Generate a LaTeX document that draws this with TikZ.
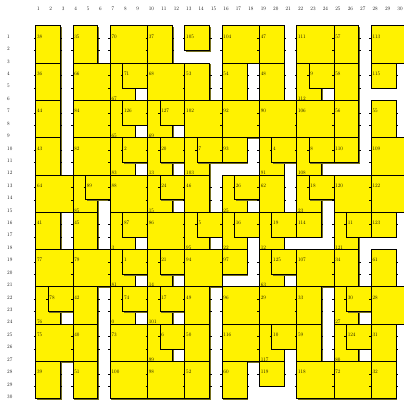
\documentclass[tikz,border=0pt]{standalone}
\usepackage{tikz}

\definecolor{shadowolive}{RGB}{118,112,32}

\tikzset{
  blk/.style={fill=yellow, draw=black, line width=1.5pt},
  blkshadow/.style={fill=shadowolive},
  edgetick/.style={draw=black, line width=0.8pt},
  num/.style={anchor=base west, inner sep=0pt, inner xsep=3pt, font=\large}
}

\newcommand{\drawblk}[6]{%
  \fill[blkshadow] (#1+0.1,#2+0.1) rectangle (#3+0.1,#4+0.1);
  \pgfmathtruncatemacro{\rowa}{#2+1}%
  \pgfmathtruncatemacro{\rowb}{#4-1}%
  \foreach \k in {\rowa,...,\rowb} {
    \draw[edgetick] (#1-0.15,\k) -- (#1+0.15,\k);
    \draw[edgetick] (#3-0.15,\k) -- (#3+0.15,\k);
  }
  \filldraw[blk] (#1,#2) rectangle (#3,#4);
  \node[num] at (#1,#6) {#5};
}
\newcommand{\blk}[5]{\drawblk{#1}{#2}{#3}{#4}{#5}{#2+1}}
\newcommand{\lblk}[5]{\drawblk{#1}{#2}{#3}{#4}{#5}{#4}}

\begin{document}
\begin{tikzpicture}[x=1cm,y=-1cm]
\useasboundingbox (-1.87,-2.07) rectangle (30.63,30.68);
\clip (-1.87,-2.07) rectangle (30.63,30.68);

\foreach \c in {1,...,30} \node[num] at (\c,-1.26) {\c};
\foreach \r in {1,...,30} \node[num] at (-1.4,\r) {\r};

\blk{1}{0}{3}{3}{38}
\blk{4}{0}{6}{3}{35}
\blk{7}{0}{10}{3}{70}
\blk{10}{0}{12}{3}{37}
\blk{13}{0}{15}{2}{105}
\blk{16}{0}{19}{3}{104}
\blk{19}{0}{21}{3}{47}
\blk{22}{0}{25}{3}{111}
\blk{25}{0}{27}{3}{57}
\blk{28}{0}{31}{3}{113}

\blk{1}{3}{3}{6}{36}
\blk{4}{3}{7}{6}{66}
\lblk{7}{3}{9}{6}{67}
\blk{8}{3}{10}{5}{71}
\blk{10}{3}{13}{6}{68}
\blk{13}{3}{15}{6}{53}
\blk{16}{3}{18}{6}{54}
\blk{19}{3}{21}{6}{48}
\lblk{22}{3}{24}{6}{112}
\blk{23}{3}{25}{5}{9}
\blk{25}{3}{27}{6}{58}
\blk{28}{3}{30}{5}{115}

\blk{1}{6}{3}{9}{44}
\blk{4}{6}{7}{9}{84}
\lblk{7}{6}{9}{9}{65}
\blk{8}{6}{10}{8}{126}
\lblk{10}{6}{12}{9}{69}
\blk{11}{6}{13}{8}{127}
\blk{13}{6}{16}{9}{102}
\blk{16}{6}{19}{9}{92}
\blk{19}{6}{22}{9}{90}
\blk{22}{6}{25}{9}{106}
\blk{25}{6}{27}{9}{56}
\blk{28}{6}{30}{9}{55}

\blk{1}{9}{3}{12}{43}
\blk{4}{9}{7}{12}{82}
\lblk{7}{9}{9}{12}{83}
\blk{8}{9}{10}{11}{2}
\lblk{10}{9}{12}{12}{13}
\blk{11}{9}{13}{11}{20}
\lblk{13}{9}{15}{12}{103}
\blk{14}{9}{16}{11}{7}
\blk{16}{9}{18}{11}{93}
\lblk{19}{9}{21}{12}{91}
\blk{20}{9}{22}{11}{4}
\lblk{22}{9}{24}{12}{108}
\blk{23}{9}{25}{11}{8}
\blk{25}{9}{27}{11}{110}
\blk{28}{9}{31}{12}{109}

\blk{1}{12}{4}{15}{64}
\lblk{4}{12}{6}{15}{85}
\blk{5}{12}{7}{14}{89}
\blk{7}{12}{10}{15}{88}
\lblk{10}{12}{12}{15}{15}
\blk{11}{12}{13}{14}{24}
\blk{13}{12}{15}{15}{46}
\lblk{16}{12}{18}{15}{25}
\blk{17}{12}{19}{14}{26}
\blk{19}{12}{21}{15}{62}
\lblk{22}{12}{24}{15}{23}
\blk{23}{12}{25}{14}{18}
\blk{25}{12}{28}{15}{120}
\blk{28}{12}{31}{15}{122}

\blk{1}{15}{3}{18}{41}
\blk{4}{15}{6}{18}{45}
\lblk{7}{15}{9}{18}{3}
\blk{8}{15}{10}{17}{87}
\blk{10}{15}{13}{18}{86}
\lblk{13}{15}{15}{18}{95}
\blk{14}{15}{16}{17}{5}
\lblk{16}{15}{18}{18}{22}
\blk{17}{15}{19}{17}{16}
\lblk{19}{15}{21}{18}{12}
\blk{20}{15}{22}{17}{19}
\blk{22}{15}{24}{17}{114}
\lblk{25}{15}{27}{18}{121}
\blk{26}{15}{28}{17}{11}
\blk{28}{15}{30}{17}{123}

\blk{1}{18}{4}{21}{77}
\blk{4}{18}{7}{21}{79}
\lblk{7}{18}{9}{21}{81}
\blk{8}{18}{10}{20}{1}
\lblk{10}{18}{12}{21}{14}
\blk{11}{18}{13}{20}{21}
\blk{13}{18}{16}{21}{94}
\blk{16}{18}{18}{20}{97}
\lblk{19}{18}{21}{21}{63}
\blk{20}{18}{22}{20}{125}
\blk{22}{18}{25}{21}{107}
\blk{25}{18}{27}{21}{34}
\blk{28}{18}{30}{21}{61}

\lblk{1}{21}{3}{24}{76}
\blk{2}{21}{4}{23}{78}
\blk{4}{21}{6}{24}{42}
\lblk{7}{21}{9}{24}{0}
\blk{8}{21}{10}{23}{74}
\lblk{10}{21}{12}{24}{101}
\blk{11}{21}{13}{23}{17}
\blk{13}{21}{15}{24}{49}
\blk{16}{21}{19}{24}{96}
\blk{19}{21}{22}{24}{29}
\blk{22}{21}{24}{24}{33}
\lblk{25}{21}{27}{24}{27}
\blk{26}{21}{28}{23}{30}
\blk{28}{21}{31}{24}{28}

\blk{1}{24}{4}{27}{75}
\blk{4}{24}{6}{27}{40}
\blk{7}{24}{10}{27}{73}
\lblk{10}{24}{12}{27}{99}
\blk{11}{24}{13}{26}{6}
\blk{13}{24}{15}{27}{50}
\blk{16}{24}{19}{27}{116}
\lblk{19}{24}{21}{27}{117}
\blk{20}{24}{22}{26}{10}
\blk{22}{24}{24}{27}{59}
\lblk{25}{24}{27}{27}{80}
\blk{26}{24}{28}{26}{124}
\blk{28}{24}{30}{27}{31}

\blk{1}{27}{3}{30}{39}
\blk{4}{27}{6}{30}{51}
\blk{7}{27}{10}{30}{100}
\blk{10}{27}{13}{30}{98}
\blk{13}{27}{15}{30}{52}
\blk{16}{27}{18}{30}{60}
\blk{19}{27}{21}{29}{119}
\blk{22}{27}{25}{30}{118}
\blk{25}{27}{28}{30}{72}
\blk{28}{27}{30}{30}{32}
\end{tikzpicture}
\end{document}
